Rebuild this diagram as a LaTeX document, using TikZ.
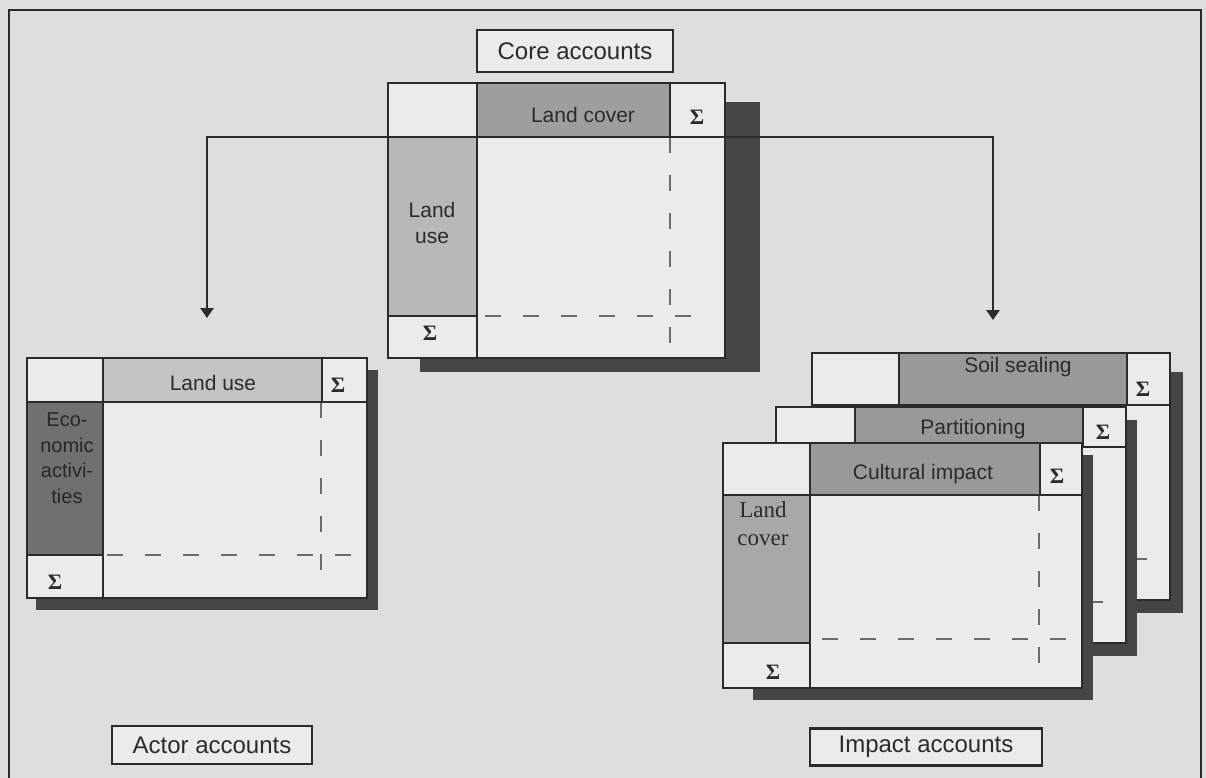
\documentclass[tikz,border=0pt]{standalone}
\usepackage{fontspec}
\setmainfont{Liberation Sans}
\newfontfamily\timesfam{Liberation Serif}
\usetikzlibrary{arrows.meta}

\definecolor{paper}{gray}{0.87}
\definecolor{cellbg}{gray}{0.92}
\definecolor{ink}{gray}{0.17}
\definecolor{drop}{gray}{0.27}
\definecolor{hdrcore}{gray}{0.62}
\definecolor{colcore}{gray}{0.72}
\definecolor{hdrlight}{gray}{0.77}
\definecolor{coldark}{gray}{0.44}
\definecolor{hdrimp}{gray}{0.6}
\definecolor{colimp}{gray}{0.66}

\begin{document}
\begin{tikzpicture}[
  x=1pt, y=-1pt,
  frame/.style={draw=ink, line width=2.4pt},
  rule/.style={draw=ink, line width=2.8pt},
  grid/.style={draw=ink!70, line width=1.3pt, dash pattern=on 16pt off 22pt},
  tag/.style={draw=ink, line width=2.8pt, fill=cellbg, inner sep=0pt, font=\fontsize{24}{28}\selectfont, text=ink},
  txt/.style={font=\fontsize{21}{26}\selectfont, text=ink, align=center, inner sep=0pt},
  sig/.style={font=\timesfam\bfseries\fontsize{22}{24}\selectfont, text=ink, inner sep=0pt},
  >={Triangle[length=10pt, width=13pt]}
]
\useasboundingbox (0,0) rectangle (1206,778);
\fill[paper] (0,0) rectangle (1206,778);
\draw[frame] (9,778) -- (9,10) -- (1201,10) -- (1201,778);

% core accounts
\fill[drop] (420,102) rectangle (760,372);
\fill[cellbg] (388,83) rectangle (725,358);
\fill[hdrcore] (477,83) rectangle (670,137);
\fill[colcore] (388,137) rectangle (477,316);
\draw[grid] (670,137) -- (670,345);
\draw[grid] (485,316) -- (707,316);
\draw[rule] (388,83) rectangle (725,358);
\draw[rule] (477,83) -- (477,358) (670,83) -- (670,137) (388,137) -- (725,137) (388,316) -- (477,316);
\node[txt] (corehdr) at (583,115) {Land cover};
\node[sig] (coresig) at (697,117) {Σ};
\node[txt] (corecol) at (432,223) {Land\\use};
\node[sig] (coresum) at (430,333) {Σ};

% arrows to the satellite accounts
\coordinate (splitL) at (207,137);
\coordinate (splitR) at (993,137);
\coordinate (toActor) at (207,318);
\coordinate (toImpact) at (993,320);
\draw[rule, line width=2.6pt, <->] (toActor) -- (splitL) -- (splitR) -- (toImpact);

% actor accounts
\fill[drop] (36,370) rectangle (378,610);
\fill[cellbg] (27,358) rectangle (367,598);
\fill[hdrlight] (103,358) rectangle (322,402);
\fill[coldark] (27,402) rectangle (103,555);
\draw[grid] (321,402) -- (321,585);
\draw[grid] (107,555) -- (367,555);
\draw[rule] (27,358) rectangle (367,598);
\draw[rule] (103,358) -- (103,598) (322,358) -- (322,402) (27,402) -- (367,402) (27,555) -- (103,555);
\node[txt] (actorhdr) at (213,383) {Land use};
\node[sig] (actorsig) at (338,385) {Σ};
\node[txt, text=black!85, font=\fontsize{20}{25.5}\selectfont] (actorcol) at (67,458) {Eco-\\nomic\\activi-\\ties};
\node[sig] (actorsum) at (55,582) {Σ};

% impact accounts (back to front)
\fill[drop] (825,372) rectangle (1183,613);
\fill[cellbg] (812,353) rectangle (1170,600);
\fill[hdrimp] (899,353) rectangle (1127,405);
\fill[colimp] (812,405) rectangle (899,559);
\draw[grid] (903,559) -- (1170,559);
\draw[rule] (812,353) rectangle (1170,600);
\draw[rule] (899,353) -- (899,600) (1127,353) -- (1127,405) (812,405) -- (1170,405) (812,559) -- (899,559);
\node[txt] (sealhdr) at (1018,367) {Soil sealing};
\node[sig] (sealsig) at (1143,389) {Σ};

\fill[drop] (789,420) rectangle (1137,656);
\fill[cellbg] (776,407) rectangle (1126,643);
\fill[hdrimp] (855,407) rectangle (1083,444);
\fill[colimp] (776,444) rectangle (855,602);
\draw[grid] (859,602) -- (1126,602);
\draw[rule] (776,407) rectangle (1126,643);
\draw[rule] (855,407) -- (855,643) (1083,407) -- (1083,447) (776,444) -- (1083,444) (1083,447) -- (1126,447) (776,602) -- (855,602);
\node[txt] (parthdr) at (973,429) {Partitioning};
\node[sig] (partsig) at (1103,432) {Σ};

\fill[drop] (753,455) rectangle (1093,700);
\fill[cellbg] (723,443) rectangle (1082,688);
\fill[hdrimp] (810,443) rectangle (1040,495);
\fill[colimp] (723,495) rectangle (810,643);
\draw[grid] (1039,495) -- (1039,675);
\draw[grid] (822,639) -- (1082,639);
\draw[rule] (723,443) rectangle (1082,688);
\draw[rule] (810,443) -- (810,688) (1040,443) -- (1040,495) (723,495) -- (1082,495) (723,643) -- (810,643);
\node[txt] (culthdr) at (923,474) {Cultural impact};
\node[sig] (cultsig) at (1057,476) {Σ};
\node[txt, font=\timesfam\fontsize{23}{28}\selectfont] (cultcol) at (763,524) {Land\\cover};
\node[sig] (cultsum) at (773,672) {Σ};

% group labels
\node[tag, minimum width=196pt, minimum height=42pt] (core) at (575,51) {Core accounts};
\node[tag, minimum width=200pt, minimum height=38pt] (actor) at (212,745) {Actor accounts};
\node[tag, minimum width=232pt, minimum height=37pt] (impact) at (926,747) {Impact accounts};
\end{tikzpicture}
\end{document}
